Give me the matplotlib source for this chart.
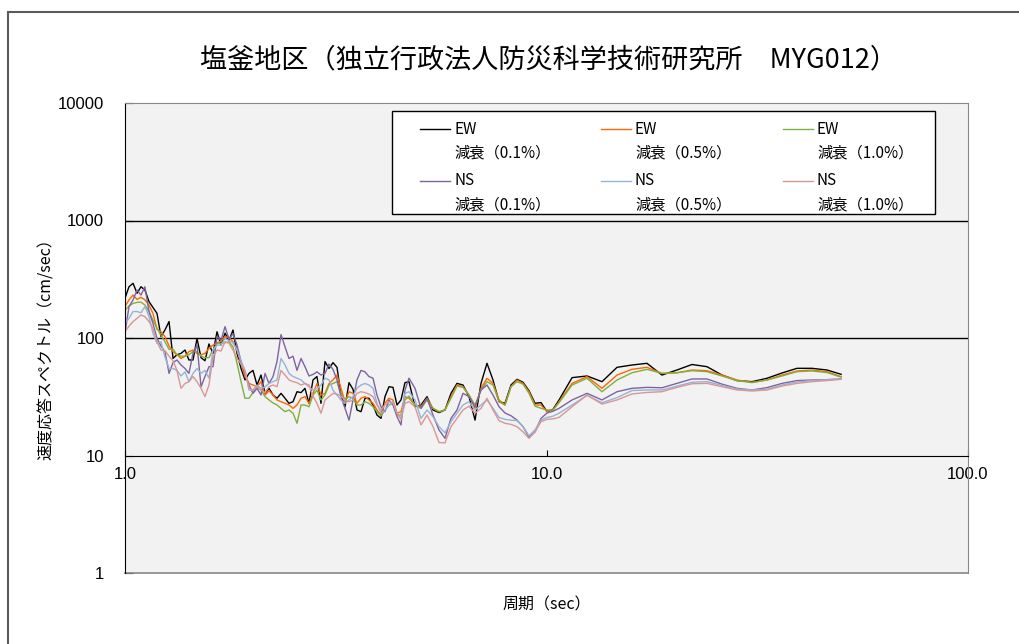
import matplotlib
matplotlib.use("Agg")
import matplotlib.pyplot as plt
import matplotlib.ticker as ticker
from matplotlib.patches import Rectangle
from matplotlib.lines import Line2D

plt.rcParams['font.family'] = ['Noto Sans CJK JP', 'DejaVu Sans']

# 周期 (sec)
period = [1.000, 1.022, 1.045, 1.068, 1.091, 1.115, 1.140, 1.165, 1.191, 1.217,
          1.244, 1.272, 1.300, 1.328, 1.358, 1.388, 1.418, 1.450, 1.482, 1.515,
          1.548, 1.582, 1.617, 1.653, 1.690, 1.727, 1.765, 1.804, 1.844, 1.885,
          1.926, 1.969, 2.012, 2.057, 2.102, 2.149, 2.196, 2.245, 2.294, 2.345,
          2.397, 2.449, 2.504, 2.559, 2.616, 2.673, 2.732, 2.793, 2.854, 2.917,
          2.982, 3.048, 3.115, 3.184, 3.254, 3.326, 3.400, 3.475, 3.551, 3.630,
          3.710, 3.792, 3.876, 3.961, 4.049, 4.138, 4.230, 4.323, 4.419, 4.516,
          4.616, 4.718,
          4.876, 5.038, 5.206, 5.379, 5.559, 5.744, 5.935, 6.133, 6.337, 6.548,
          6.767, 6.992, 7.225, 7.466, 7.715, 7.972, 8.237, 8.512, 8.796, 9.089,
          9.392, 9.704, 10.03, 10.36, 10.71,
          11.50, 12.48, 13.54, 14.70, 15.95, 17.31, 18.79, 20.39, 22.14, 24.03,
          26.08, 28.31, 30.73, 33.35, 36.21, 39.29, 42.65, 46.29, 50.00]

# 速度応答スペクトル (cm/sec)
ew_h01 = [218, 273, 292, 240, 273, 256, 204, 182, 162, 103,
          117, 138, 67, 72, 74, 79, 65, 65, 99, 68,
          64, 89, 74, 113, 87, 110, 95, 117, 74, 55,
          44, 50, 53, 39.8, 48.4, 33.8, 37.3, 32.7, 30.7, 33.8,
          30.7, 27.8, 28.7, 34.9, 34.3, 37.3, 27.8, 44, 47, 27.8,
          63, 55, 61.7, 56.3, 32.7, 26, 41.7, 36.6, 24.4, 23.6,
          30.7, 30.7, 26.9, 22.1, 20.7, 31.7, 38.5, 38, 26.9, 29.7,
          41.7, 42.5,
          26.0, 26.9, 31.7, 24.4, 23.2, 24.4, 33.8, 41.1, 39.8, 31.7,
          20.0, 41.1, 60.9, 43.9, 28.7, 27.8, 39.8, 44.5, 42, 35.6,
          27.8, 28.2, 23.6, 24.7, 29.7,
          46, 47.5, 42.5, 56.3, 58.9, 60.9, 48.4, 53.4, 59.5, 57.0,
          48.4, 43.4, 42.5, 45.4, 50.4, 55.2, 55.2, 53.4, 49.1]

ew_h05 = [185, 211, 232, 213, 222, 211, 191, 162, 119, 113,
          103, 85.5, 76.5, 72, 67, 70, 76.5, 79, 74, 72,
          74, 81.6, 87, 91, 94, 103, 101, 93, 79, 61,
          47, 41, 39.8, 38.5, 42.5, 32.7, 35.6, 32.7, 29.7, 28.7,
          27.8, 26.9, 25.2, 26.9, 30.7, 31.7, 27.8, 33.8, 41, 32.7,
          33.8, 41, 44, 48.4, 37.3, 28.7, 34.9, 33.8, 27.8, 30.7,
          31.7, 29.7, 27.8, 24.4, 22.1, 27.8, 30.7, 29.7, 22.9, 23.6,
          31.7, 30.7,
          26.9, 26.0, 30.7, 25.2, 23.6, 24.4, 31.7, 39.8, 38.5, 32.7,
          25.2, 37.3, 45.4, 41.1, 29.7, 26.9, 38.5, 43.9, 41.1, 34.9,
          26.9, 26.9, 23.6, 24.4, 28.7,
          41.1, 46.9, 37.3, 48.4, 54.1, 56.3, 50, 50.6, 53.4, 52.7,
          48.4, 43.9, 42, 43.9, 48.4, 52.4, 53.4, 51.7, 46.9]

ew_h10 = [173, 187, 197, 201, 202, 191, 168, 142, 121, 106,
          93, 80, 80.5, 72, 70, 70, 72, 76.5, 76.5, 70,
          68, 68, 79, 90, 90, 91, 93, 84, 61, 42.5,
          30.7, 30.7, 34.3, 38.5, 36, 31.7, 29.7, 28, 26.9, 25.2,
          23.6, 24.4, 22.9, 18.8, 26.9, 26.9, 26, 32.7, 36, 29.7,
          32.7, 39.8, 41, 42.5, 33.8, 29.7, 31.7, 30.7, 26.9, 26.9,
          28.7, 27.8, 26, 23.6, 21.7, 24.4, 26.9, 27.8, 22.1, 22.1,
          29.7, 32,
          26.9, 25.2, 29.7, 25.2, 23.6, 24.4, 30.7, 39, 38, 32.7,
          26.9, 36.1, 42.5, 39.8, 28.7, 26.9, 38.5, 42.5, 40.5, 33.8,
          26.3, 25.2, 24.4, 24.4, 28.2,
          39.8, 45.4, 34.9, 43.9, 50.6, 54.1, 50, 50.6, 52.7, 51.7,
          47.5, 43.4, 41.7, 43.9, 47.5, 51.7, 52.4, 50.8, 46.4]

ns_h01 = [110, 185, 211, 256, 232, 273, 168, 133, 99.4, 85.5,
          76.5, 50, 61.7, 65, 58.9, 55, 50, 74, 87, 38.5,
          47, 57, 57, 103, 96, 125, 97.5, 109, 87, 63,
          50, 39.8, 33.8, 37.3, 32.7, 50, 41, 47, 63, 107,
          84, 67, 70, 53, 67, 57, 47.5, 49, 51.5, 48.4,
          50, 60, 54, 44, 31.7, 25.2, 20, 29.7, 44, 53,
          51.5, 47, 45.5, 32.7, 26, 23.6, 29.7, 26.9, 21.4, 18.2,
          36, 45.5,
          37.3, 25.2, 30.7, 22.1, 16.5, 14.0, 20.7, 24.4, 33.8, 31.7,
          26.0, 36.1, 39.8, 32.7, 26.0, 23.0, 21.8, 20.0, 17.6, 14.3,
          15.9, 20.7, 23.0, 23.8, 25.2,
          29.7, 33.8, 29.7, 34.9, 37.3, 38, 37.7, 41.1, 44.8, 44.8,
          40.5, 37.3, 36.1, 37.8, 41.1, 43.4, 43.9, 44.2, 44.8]

ns_h05 = [133, 147, 168, 168, 164, 185, 152, 110, 90, 93,
          69, 55, 55, 53, 47.5, 51.5, 42.5, 50, 55, 50,
          53, 45.5, 79, 87, 87, 99.4, 95, 91, 79, 64,
          53, 36, 36, 39.8, 37.3, 38.5, 41, 42.5, 44, 67,
          59, 50, 47, 45.5, 44, 41, 38.5, 36, 37.3, 39.8,
          45.5, 44, 36, 32.7, 29.7, 27.8, 29.7, 31.7, 37.3, 39.8,
          41, 39.8, 37.3, 27.8, 22.9, 24.4, 26.9, 28.7, 22.9, 20.7,
          33.8, 34.9,
          29.7, 20.7, 24.4, 21.4, 17.6, 15.6, 19.4, 22.9, 26.9, 28.7,
          24.4, 26.9, 29.7, 25.2, 21.1, 20.3, 20.0, 19.8, 17.6, 14.7,
          16.5, 20.0, 21.1, 21.6, 22.9,
          26.9, 32.5, 28.1, 31.1, 35.7, 36.1, 36.1, 38.9, 42, 42.5,
          39.5, 36.8, 36.1, 36.6, 39.8, 42.3, 43.4, 44.2, 44.8]

ns_h10 = [113, 126, 138, 147, 157, 152, 138, 121, 93, 79,
          78, 70, 64, 53, 37.3, 41, 42.5, 47, 42.5, 37.3,
          31.7, 39.8, 69, 79, 77.5, 93, 90, 79, 67, 60,
          53, 37.3, 36, 38.5, 36, 34.3, 38.5, 39.8, 38.5, 53,
          48.4, 44, 42.5, 41.7, 39.8, 41, 39.8, 32, 27.8, 22.9,
          29.7, 31.7, 33.8, 33.3, 32, 29.7, 28.7, 29.7, 33.8, 34.9,
          34.3, 33.3, 31.7, 26.9, 24.4, 26.9, 28.7, 28, 22.9, 20.3,
          27.8, 28.7,
          26.0, 18.2, 22.1, 17.6, 12.9, 12.8, 17.6, 20.7, 24.4, 26.3,
          22.9, 25.2, 30.7, 24.4, 19.8, 18.8, 18.4, 17.6, 15.9, 14.0,
          15.9, 19.4, 20.3, 20.5, 21.1,
          26, 32.7, 27.4, 29.7, 33.4, 34.4, 34.9, 38, 40.8, 41.1,
          38.5, 36.1, 35.4, 36.1, 39, 41.1, 42.5, 43.4, 44.5]

series = [
    (ew_h01, 'EW\n減衰（0.1%）', '#000000'),
    (ew_h05, 'EW\n減衰（0.5%）', '#FF6600'),
    (ew_h10, 'EW\n減衰（1.0%）', '#7FAF3F'),
    (ns_h01, 'NS\n減衰（0.1%）', '#7E649E'),
    (ns_h05, 'NS\n減衰（0.5%）', '#95B3D7'),
    (ns_h10, 'NS\n減衰（1.0%）', '#D99694'),
]
x_ticks = [1, 10, 100]
y_ticks = [1, 10, 100, 1000, 10000]
ref_levels = [100, 1000]

W, H = 1019, 644


def fig_xy(px, py):
    # pixel position (from top-left) -> figure fraction
    return px / W, 1 - py / H


fig = plt.figure(figsize=(W / 100, H / 100), dpi=100)
ax = fig.add_axes([125 / W, 71 / H, 843 / W, 470 / H])

# outer chart frame
fx, fy = fig_xy(8, 12)
fig.add_artist(Rectangle((fx, -0.1), 1.2, fy + 0.1, transform=fig.transFigure,
                         fill=False, edgecolor='#5A5A5A', linewidth=1.5))

ax.set_facecolor('#F2F2F2')
for vals, label, color in series:
    ax.plot(period, vals, color=color, linewidth=1.0)

ax.set_xscale('log')
ax.set_yscale('log')
ax.set_xlim(1, 100)
ax.set_ylim(1, 10000)

for lv in ref_levels:
    ax.axhline(lv, color='black', linewidth=1.0, zorder=1)

# horizontal axis crosses at 10
ax.spines['bottom'].set_position(('data', 10))
ax.spines['bottom'].set_color('black')
ax.spines['left'].set_color('black')
for s in ['top', 'right']:
    ax.spines[s].set_color('#888888')
ax.plot([0, 1], [0, 0], transform=ax.transAxes, color='#888888',
        linewidth=1.2, clip_on=False)

ax.xaxis.set_major_locator(ticker.FixedLocator(x_ticks))
ax.yaxis.set_major_locator(ticker.FixedLocator(y_ticks))
ax.xaxis.set_minor_locator(ticker.NullLocator())
ax.yaxis.set_minor_locator(ticker.NullLocator())
ax.xaxis.set_major_formatter(ticker.FormatStrFormatter('%.1f'))
ax.yaxis.set_major_formatter(ticker.FormatStrFormatter('%d'))
ax.tick_params(axis='x', direction='in', length=4, pad=8, labelsize=12,
               labelfontfamily='Liberation Sans')
ax.tick_params(axis='y', direction='in', length=6, pad=15, labelsize=12,
               labelfontfamily='Liberation Sans')

ax.set_xlabel('周期（sec）', fontsize=11.5)
ax.xaxis.set_label_coords(0.5, -0.05)
ax.set_ylabel('速度応答スペクトル（cm/sec）', fontsize=11.5)
ax.yaxis.set_label_coords(-0.083, 0.485)

tx, ty = fig_xy(549, 60)
fig.text(tx, ty, '塩釜地区（独立行政法人防災科学技術研究所　MYG012）',
         ha='center', va='center', fontsize=19.5)

# legend: 3 columns x 2 rows, handle aligned with the first text line
bx0, by0 = fig_xy(392, 214)
bx1, by1 = fig_xy(935, 111)
fig.add_artist(Rectangle((bx0, by0), bx1 - bx0, by1 - by0,
                         transform=fig.transFigure, facecolor='white',
                         edgecolor='black', linewidth=1.0, zorder=5))
col_x = [420, 601, 783]
row_y = [129, 181]
for i, (vals, label, color) in enumerate(series):
    cx = col_x[i % 3]
    cy = row_y[i // 3]
    x0, y0 = fig_xy(cx, cy)
    x1, _ = fig_xy(cx + 30, cy)
    fig.add_artist(Line2D([x0, x1], [y0, y0], transform=fig.transFigure,
                          color=color, linewidth=1.0, zorder=6))
    for k, line in enumerate(label.split('\n')):
        lx, ly = fig_xy(cx + 34, cy + 24 * k)
        fig.text(lx, ly, line, ha='left', va='center', fontsize=11, zorder=6)

fig.savefig('out.png', dpi=100)
